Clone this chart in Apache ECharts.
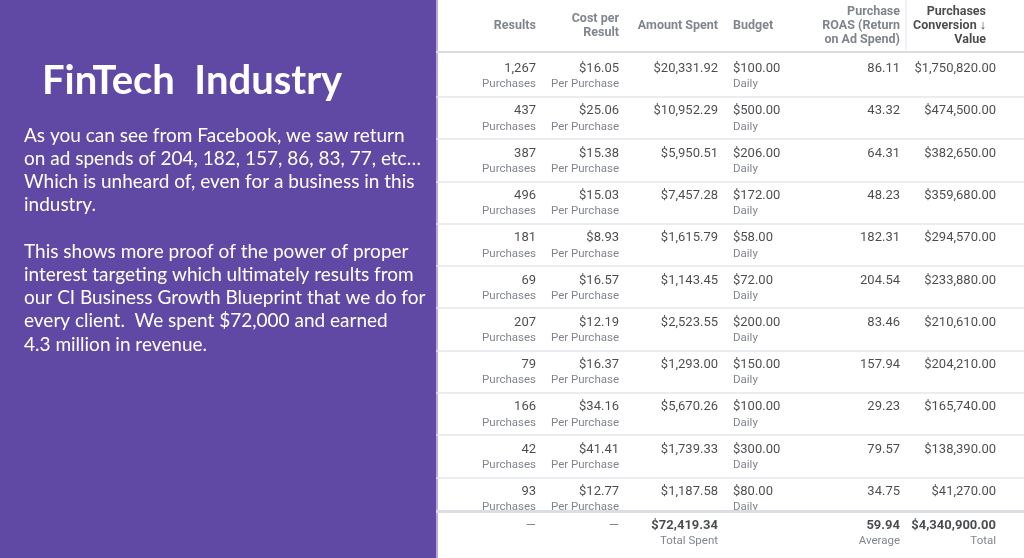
<!DOCTYPE html>
<html><head><meta charset="utf-8">
<script src="https://cdn.jsdelivr.net/npm/echarts@6/dist/echarts.min.js"></script>
<style>html,body{margin:0;padding:0;background:#fff}#c{width:1024px;height:558px}</style>
</head><body><div id="c"></div>
<script>
const headers = [['Results'], ['Cost per','Result'], ['Amount Spent'], ['Budget'], ['Purchase','ROAS (Return','on Ad Spend)'], ['Purchases','Conversion ↓','Value']];
const results = [1267, 437, 387, 496, 181, 69, 207, 79, 166, 42, 93];
const costPerResult = [16.05, 25.06, 15.38, 15.03, 8.93, 16.57, 12.19, 16.37, 34.16, 41.41, 12.77];
const amountSpent = [20331.92, 10952.29, 5950.51, 7457.28, 1615.79, 1143.45, 2523.55, 1293.00, 5670.26, 1739.33, 1187.58];
const budget = [100, 500, 206, 172, 58, 72, 200, 150, 100, 300, 80];
const roas = [86.11, 43.32, 64.31, 48.23, 182.31, 204.54, 83.46, 157.94, 29.23, 79.57, 34.75];
const convValue = [1750820, 474500, 382650, 359680, 294570, 233880, 210610, 204210, 165740, 138390, 41270];
const subLabels = ['Purchases', 'Per Purchase', '', 'Daily', '', ''];
const totals = ['—', '—', 72419.34, '', 59.94, 4340900];
const totalLabels = ['', '', 'Total Spent', '', 'Average', 'Total'];
const title = 'FinTech  Industry';
const paragraph = ['As you can see from Facebook, we saw return','on ad spends of 204, 182, 157, 86, 83, 77, etc…','Which is unheard of, even for a business in this','industry.','','This shows more proof of the power of proper','interest targeting which ultimately results from','our CI Business Growth Blueprint that we do for','every client.  We spent $72,000 and earned','4.3 million in revenue.'];

// layout: column anchor positions on the x axis and alignment
const colX = [536, 619, 718, 733, 900, 996];
const colAlign = ['right','right','right','left','right','right'];

const money = v => '$' + v.toLocaleString('en-US',{minimumFractionDigits:2, maximumFractionDigits:2});
const cols = [
  results.map(v => v.toLocaleString('en-US')),
  costPerResult.map(money),
  amountSpent.map(money),
  budget.map(money),
  roas.map(v => v.toFixed(2)),
  convValue.map(money)
];
const totalStr = totals.map(v => typeof v === 'number' ? money(v) : v);
totalStr[4] = totals[4].toFixed(2);

const series = [];
cols.forEach((col, c) => {
  const lab = {show:true, position:'inside', align:colAlign[c], verticalAlign:'middle', fontFamily:'Roboto', fontSize:13, color:'#1c1e21', formatter: p => p.data[2]};
  series.push({type:'scatter', symbolSize:0, silent:true, label:lab,
    data: col.map((s,i) => [colX[c], i, s])});
  if (subLabels[c]) series.push({type:'scatter', symbolSize:0, silent:true,
    label:{...lab, fontSize:11.5, color:'#606770'},
    data: col.map((s,i) => [colX[c], i+0.37, subLabels[c]])});
  const h = headers[c];
  series.push({type:'scatter', symbolSize:0, silent:true,
    label:{...lab, fontWeight:'bold', fontSize:12.5, lineHeight:14, color: c===5 ? '#1c1e21' : '#606770', formatter: () => h.join('\n')},
    data:[[colX[c] + (c===5 ? -10 : 0), -1.02, '']]});
  if (totalStr[c]) series.push({type:'scatter', symbolSize:0, silent:true,
    label:{...lab, fontWeight: c<2 ? 'normal' : 'bold', color: c<2 ? '#606770' : '#1c1e21'},
    data:[[colX[c], 10.8, totalStr[c]]]});
  if (totalLabels[c]) series.push({type:'scatter', symbolSize:0, silent:true,
    label:{...lab, fontSize:11.5, color:'#606770'},
    data:[[colX[c], 11.17, totalLabels[c]]]});
});
const seps = results.slice(0,-1).map((_,i) => ({yAxis: i+0.66}));
series.push({type:'scatter', data:[], markLine:{silent:true, symbol:'none', label:{show:false},
  lineStyle:{color:'#e4e6eb', width:1.5, type:'solid'},
  data:[{yAxis:-0.40, lineStyle:{color:'#dadde1', width:2}}, ...seps, {yAxis:10.47, lineStyle:{color:'#dadde1', width:3}}]}});

const chart = echarts.init(document.getElementById('c'));
chart.setOption({
  backgroundColor:'#fff',
  animation:false,
  grid:{left:436, right:0, top:0, bottom:0},
  xAxis:{type:'value', min:436, max:1024, show:false},
  yAxis:{type:'value', min:-1.63, max:11.57, inverse:true, show:false},
  series,
  graphic:[
    {type:'rect', shape:{x:0,y:0,width:436,height:558}, style:{fill:'#6049a5'}},
    {type:'line', shape:{x1:437,y1:0,x2:437,y2:558}, style:{stroke:'#b8a8dc', lineWidth:2}},
    {type:'line', shape:{x1:906,y1:0,x2:906,y2:50}, style:{stroke:'#e4e6eb', lineWidth:1}},
    {type:'text', left:42, top:61, style:{text:title, fill:'#fff', font:'bold 40px Lato'}},
    {type:'text', left:24, top:124, style:{text:paragraph.join('\n'), fill:'#fff', font:'19px Lato', lineHeight:23.2}}
  ]
});
</script></body></html>
